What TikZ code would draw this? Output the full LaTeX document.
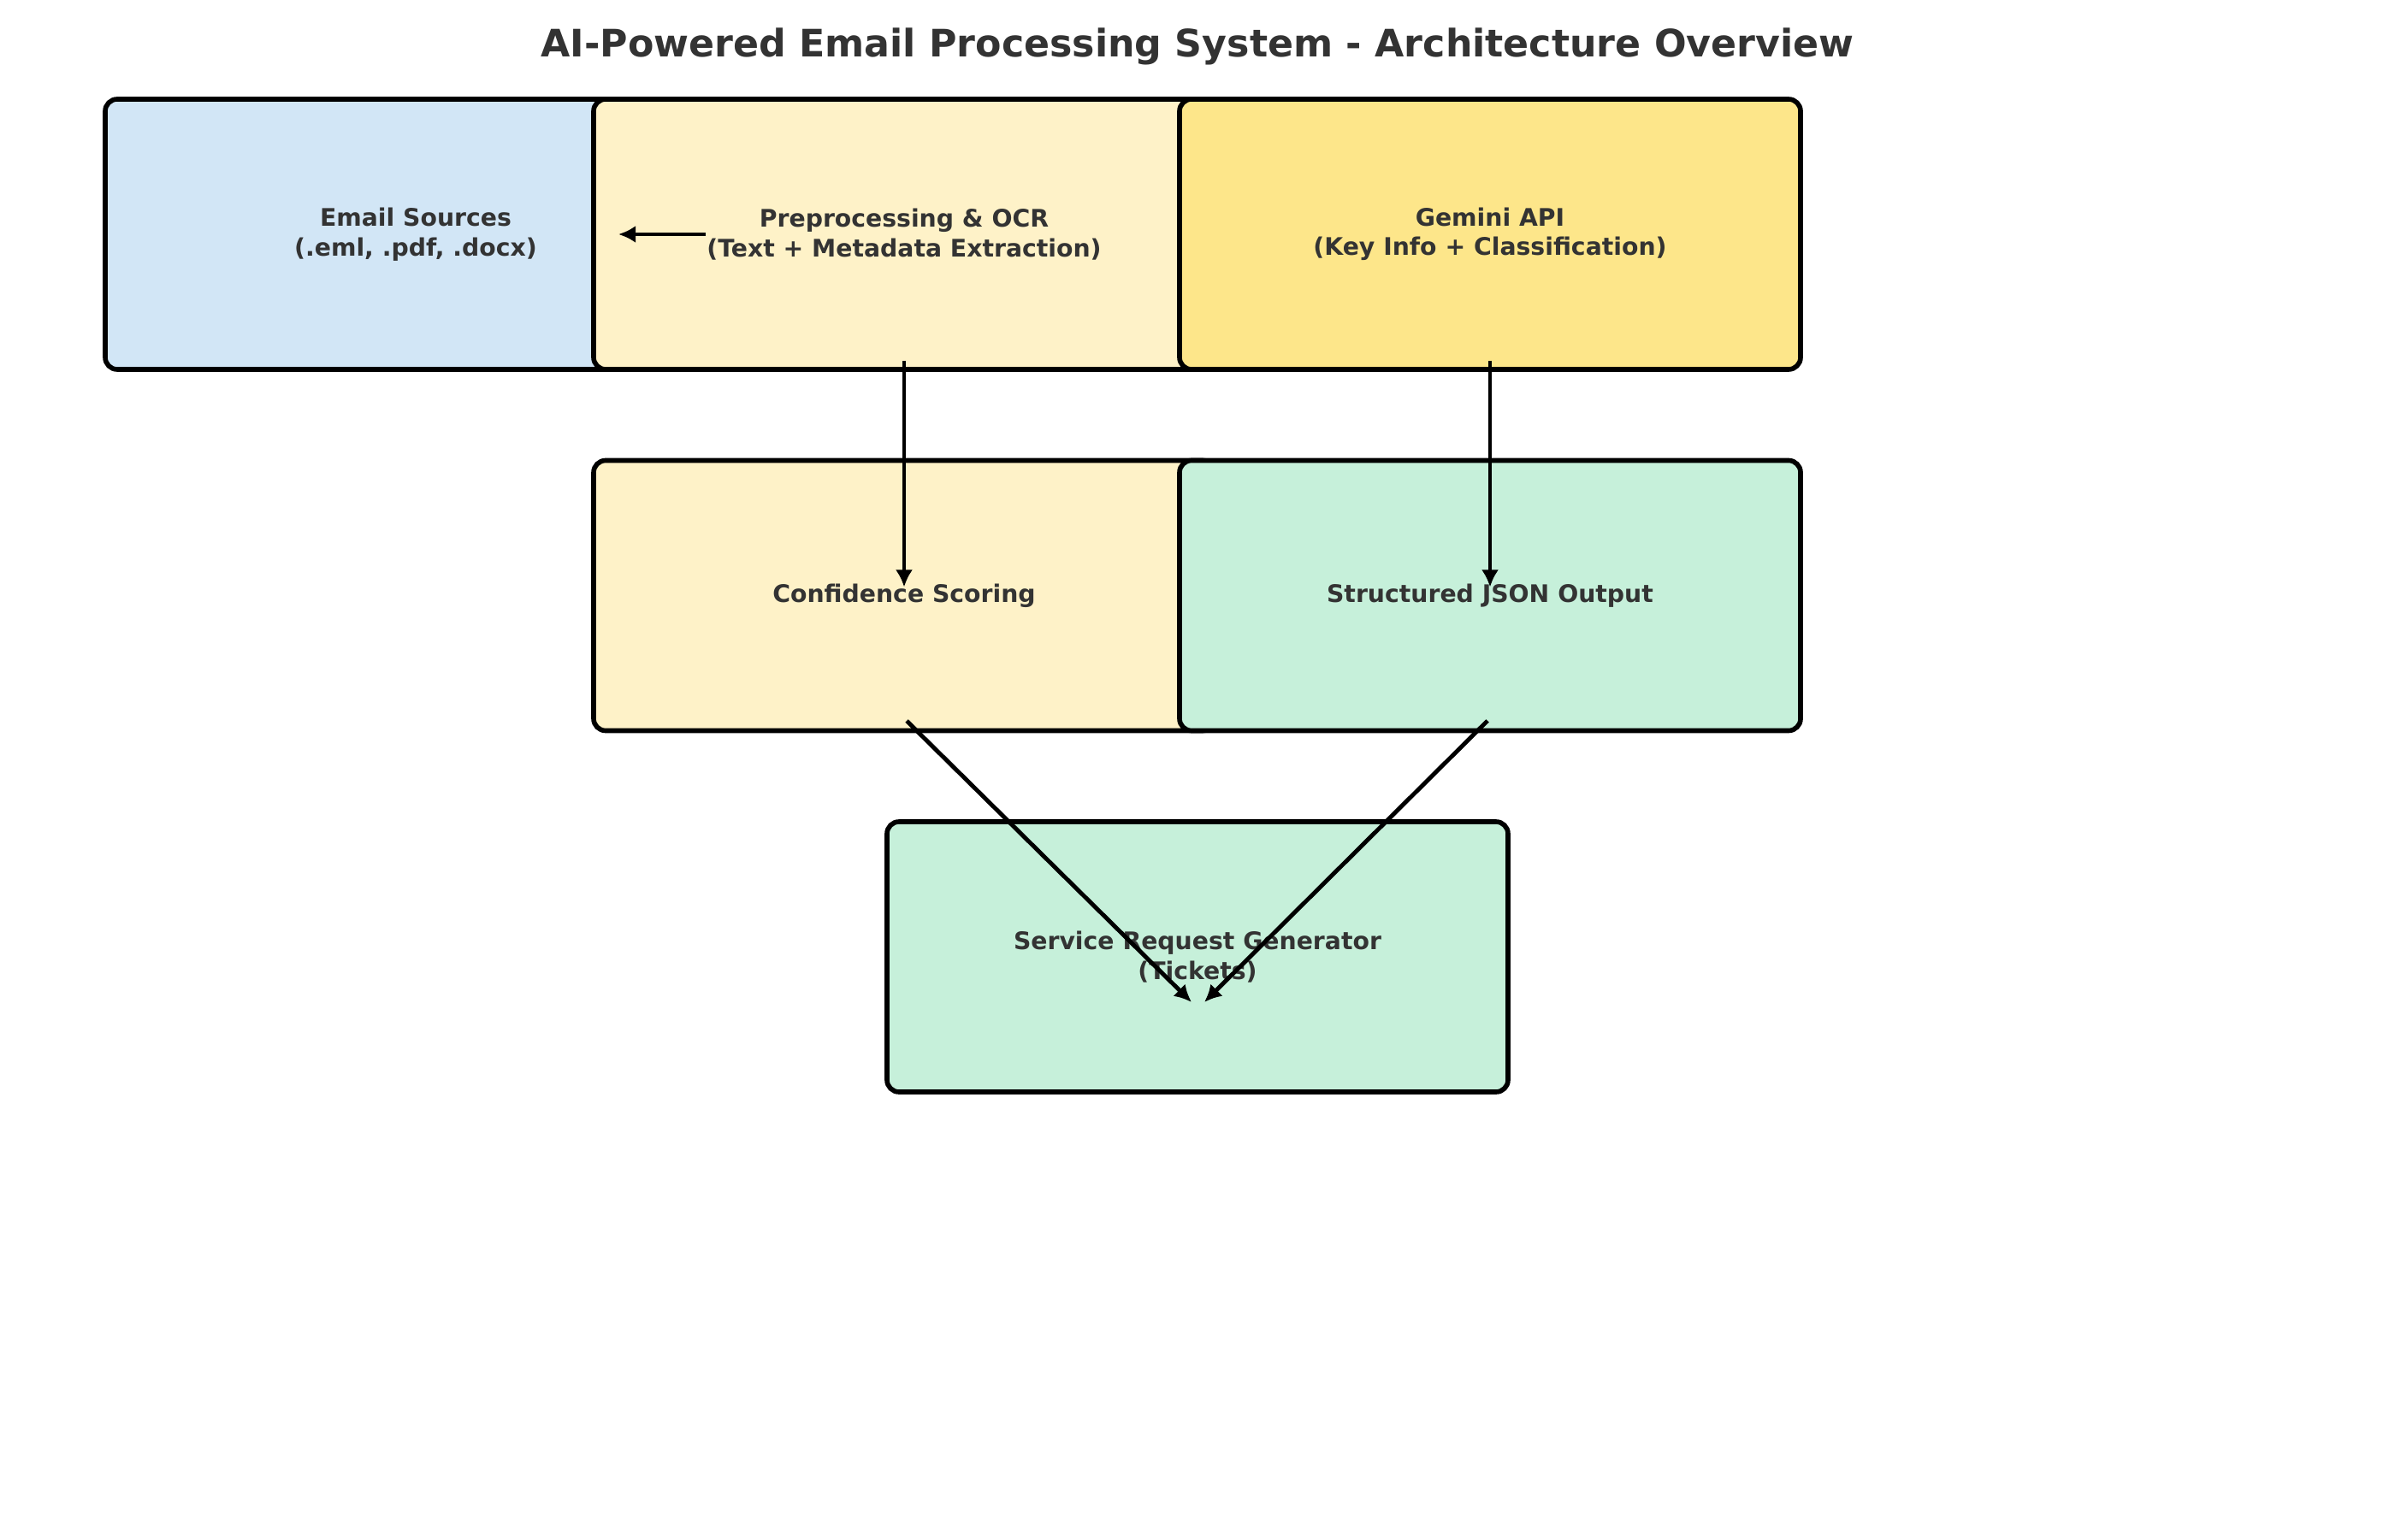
\documentclass[tikz,border=0pt]{standalone}
\usepackage{fontspec}
\setmainfont{DejaVu Sans}
\usepackage{xcolor}
\usetikzlibrary{positioning,calc,arrows.meta}

\definecolor{srcblue}{HTML}{D2E6F6}
\definecolor{prepyellow}{HTML}{FEF2C8}
\definecolor{apigold}{HTML}{FDE68A}
\definecolor{outgreen}{HTML}{C6F0DA}
\definecolor{txtgray}{HTML}{333333}

\begin{document}
\begin{tikzpicture}[
    box/.style={draw=black, line width=1.6pt, rounded corners=0.14cm, rectangle,
        minimum width=7.26cm, minimum height=3.16cm, align=center,
        text=txtgray, font=\fontsize{8.05}{9.8}\selectfont\bfseries},
    flow/.style={-{Latex[length=0.2cm,width=0.2cm]}, line width=1.4pt, black}
]
    \useasboundingbox (0,0) rectangle (28,18);

    % Title
    \node[text=txtgray, font=\fontsize{12.6}{15}\selectfont\bfseries] (title) at (14, 17.46)
        {AI-Powered Email Processing System - Architecture Overview};

    % Top row
    \node[box, fill=srcblue] (email) at (4.86, 15.26) {Email Sources\\(.eml, .pdf, .docx)};
    \node[box, fill=prepyellow] (prep) at (10.57, 15.26) {Preprocessing \& OCR\\(Text + Metadata Extraction)};
    \node[box, fill=apigold] (gemini) at (17.42, 15.26) {Gemini API\\(Key Info + Classification)};

    % Middle row
    \node[box, fill=prepyellow] (conf) at (10.57, 11.035) {Confidence Scoring};
    \node[box, fill=outgreen] (json) at (17.42, 11.035) {Structured JSON Output};

    % Bottom
    \node[box, fill=outgreen] (srg) at (14.00, 6.81) {Service Request Generator\\(Tickets)};

    % Arrows
    \draw[flow] ([xshift=-2.32cm]prep.center) -- ([xshift=2.37cm]email.center);
    \foreach \a/\b in {prep/conf, gemini/json} {
        \draw[flow] ([yshift=-1.48cm]\a.center) -- ([yshift=0.1cm]\b.center);
    }
    \foreach \a/\sx/\dx in {conf/0.03/-0.07, json/-0.03/0.08} {
        \draw[flow] ([shift={(\sx,-1.465)}]\a.center) -- ([shift={(\dx,-0.53)}]srg.center);
    }
\end{tikzpicture}
\end{document}
